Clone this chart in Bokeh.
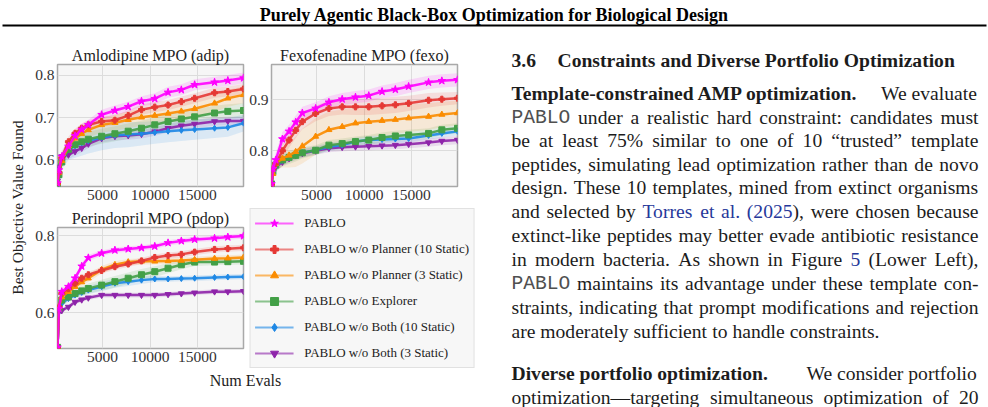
import math
from bokeh.plotting import figure
from bokeh.models import Range1d, FixedTicker, PrintfTickFormatter, Legend, LegendItem, ColumnDataSource
from bokeh.layouts import row, column
from bokeh.embed import file_html
from bokeh.resources import INLINE
from bokeh.core.properties import value

# ---------------------------------------------------------------- data
SERIES = ["PABLO", "PABLO w/o Planner (10 Static)", "PABLO w/o Planner (3 Static)",
          "PABLO w/o Explorer", "PABLO w/o Both (10 Static)", "PABLO w/o Both (3 Static)"]
COLORS = ["#ff00ff", "#e53935", "#fb8c00", "#43a047", "#1e88e5", "#8e24aa"]
MARKERS = ["star", "plus", "triangle", "square", "diamond", "inverted_triangle"]

EVALS = [250, 400, 700, 1400, 2100, 2800, 3500, 4900, 6300, 7700, 9100, 10500,
         11900, 13300, 14700, 16800, 18200, 19850]
X_TICKS = [5000, 10000, 15000]

# Amlodipine MPO (adip): mean best value and half-width of the shaded band
ADIP_PABLO = [0.545, 0.576, 0.608, 0.632, 0.657, 0.672, 0.683, 0.707, 0.717, 0.726, 0.739, 0.745, 0.760, 0.766, 0.778, 0.784, 0.788, 0.794]
ADIP_P10 = [0.545, 0.570, 0.605, 0.643, 0.663, 0.675, 0.683, 0.691, 0.694, 0.705, 0.719, 0.725, 0.730, 0.738, 0.746, 0.759, 0.762, 0.768]
ADIP_P3 = [0.545, 0.570, 0.598, 0.633, 0.651, 0.662, 0.671, 0.683, 0.688, 0.695, 0.701, 0.705, 0.710, 0.715, 0.721, 0.734, 0.746, 0.754]
ADIP_EXPL = [0.540, 0.565, 0.595, 0.625, 0.636, 0.643, 0.649, 0.656, 0.662, 0.668, 0.675, 0.683, 0.691, 0.697, 0.702, 0.711, 0.715, 0.717]
ADIP_B10 = [0.540, 0.560, 0.598, 0.624, 0.633, 0.640, 0.645, 0.653, 0.658, 0.660, 0.662, 0.665, 0.668, 0.670, 0.672, 0.675, 0.677, 0.687]
ADIP_B3 = [0.550, 0.584, 0.608, 0.612, 0.620, 0.628, 0.638, 0.651, 0.656, 0.658, 0.661, 0.667, 0.675, 0.681, 0.685, 0.691, 0.692, 0.692]
ADIP_PABLO_SD = [0.005, 0.012, 0.014, 0.014, 0.013, 0.013, 0.012, 0.012, 0.012, 0.012, 0.012, 0.013, 0.013, 0.013, 0.013, 0.013, 0.013, 0.013]
ADIP_P10_SD = [0.005, 0.012, 0.012, 0.012, 0.011, 0.011, 0.011, 0.011, 0.012, 0.012, 0.012, 0.012, 0.012, 0.012, 0.012, 0.012, 0.012, 0.012]
ADIP_P3_SD = [0.005, 0.012, 0.014, 0.015, 0.016, 0.017, 0.018, 0.018, 0.019, 0.020, 0.020, 0.021, 0.022, 0.022, 0.022, 0.021, 0.020, 0.020]
ADIP_EXPL_SD = [0.005, 0.012, 0.014, 0.015, 0.016, 0.017, 0.017, 0.018, 0.018, 0.018, 0.018, 0.018, 0.018, 0.018, 0.018, 0.017, 0.017, 0.017]
ADIP_B10_SD = [0.005, 0.015, 0.020, 0.025, 0.028, 0.030, 0.030, 0.030, 0.030, 0.030, 0.028, 0.027, 0.026, 0.025, 0.024, 0.023, 0.022, 0.020]
ADIP_B3_SD = [0.005, 0.010, 0.010, 0.010, 0.010, 0.010, 0.010, 0.010, 0.010, 0.010, 0.010, 0.010, 0.010, 0.010, 0.010, 0.010, 0.010, 0.010]

# Fexofenadine MPO (fexo)
FEXO_PABLO = [0.735, 0.765, 0.782, 0.823, 0.838, 0.856, 0.874, 0.883, 0.895, 0.901, 0.905, 0.908, 0.916, 0.920, 0.926, 0.934, 0.937, 0.939]
FEXO_P10 = [0.735, 0.765, 0.775, 0.800, 0.821, 0.840, 0.857, 0.873, 0.883, 0.886, 0.886, 0.886, 0.888, 0.890, 0.893, 0.899, 0.901, 0.903]
FEXO_P3 = [0.735, 0.755, 0.775, 0.785, 0.791, 0.798, 0.809, 0.828, 0.841, 0.847, 0.854, 0.857, 0.859, 0.861, 0.864, 0.867, 0.871, 0.874]
FEXO_EXPL = [0.735, 0.759, 0.772, 0.782, 0.787, 0.791, 0.796, 0.801, 0.811, 0.814, 0.818, 0.821, 0.826, 0.829, 0.831, 0.834, 0.841, 0.844]
FEXO_B10 = [0.735, 0.755, 0.768, 0.781, 0.787, 0.791, 0.796, 0.801, 0.808, 0.811, 0.818, 0.821, 0.822, 0.823, 0.824, 0.830, 0.834, 0.838]
FEXO_B3 = [0.735, 0.759, 0.768, 0.778, 0.785, 0.791, 0.795, 0.800, 0.805, 0.807, 0.808, 0.809, 0.810, 0.811, 0.813, 0.816, 0.819, 0.821]
FEXO_PABLO_SD = [0.005, 0.012, 0.014, 0.014, 0.013, 0.013, 0.012, 0.012, 0.012, 0.012, 0.012, 0.012, 0.012, 0.013, 0.013, 0.013, 0.013, 0.013]
FEXO_P10_SD = [0.005, 0.010, 0.012, 0.014, 0.015, 0.015, 0.015, 0.015, 0.015, 0.015, 0.016, 0.016, 0.016, 0.016, 0.015, 0.014, 0.013, 0.012]
FEXO_P3_SD = [0.005, 0.010, 0.012, 0.018, 0.024, 0.030, 0.034, 0.036, 0.036, 0.034, 0.032, 0.030, 0.029, 0.028, 0.027, 0.026, 0.025, 0.024]
FEXO_EXPL_SD = [0.005, 0.010, 0.012, 0.013, 0.013, 0.012, 0.011, 0.010, 0.010, 0.010, 0.010, 0.010, 0.010, 0.010, 0.010, 0.010, 0.010, 0.010]
FEXO_B10_SD = [0.005, 0.010, 0.010, 0.010, 0.010, 0.009, 0.009, 0.008, 0.008, 0.008, 0.008, 0.008, 0.008, 0.008, 0.008, 0.008, 0.008, 0.008]
FEXO_B3_SD = [0.005, 0.008, 0.008, 0.008, 0.008, 0.008, 0.008, 0.008, 0.008, 0.008, 0.008, 0.008, 0.008, 0.008, 0.008, 0.008, 0.008, 0.008]

# Perindopril MPO (pdop)
PDOP_PABLO = [0.510, 0.611, 0.655, 0.668, 0.690, 0.721, 0.743, 0.755, 0.763, 0.766, 0.769, 0.773, 0.782, 0.787, 0.791, 0.794, 0.797, 0.800]
PDOP_P10 = [0.510, 0.615, 0.650, 0.663, 0.677, 0.690, 0.699, 0.710, 0.720, 0.727, 0.735, 0.744, 0.749, 0.752, 0.758, 0.765, 0.767, 0.769]
PDOP_P3 = [0.510, 0.615, 0.641, 0.655, 0.668, 0.680, 0.690, 0.712, 0.725, 0.732, 0.734, 0.734, 0.735, 0.736, 0.738, 0.741, 0.742, 0.744]
PDOP_EXPL = [0.510, 0.611, 0.633, 0.641, 0.650, 0.657, 0.663, 0.672, 0.681, 0.690, 0.699, 0.707, 0.716, 0.725, 0.732, 0.732, 0.733, 0.734]
PDOP_B10 = [0.510, 0.606, 0.624, 0.637, 0.646, 0.653, 0.659, 0.668, 0.677, 0.681, 0.685, 0.688, 0.688, 0.689, 0.690, 0.692, 0.693, 0.694]
PDOP_B3 = [0.510, 0.602, 0.606, 0.615, 0.628, 0.634, 0.639, 0.646, 0.646, 0.646, 0.646, 0.646, 0.648, 0.650, 0.652, 0.655, 0.655, 0.656]
PDOP_PABLO_SD = [0.005, 0.008, 0.008, 0.008, 0.008, 0.008, 0.008, 0.007, 0.007, 0.007, 0.007, 0.007, 0.007, 0.007, 0.007, 0.007, 0.007, 0.007]
PDOP_P10_SD = [0.005, 0.008, 0.008, 0.008, 0.008, 0.008, 0.008, 0.008, 0.008, 0.008, 0.008, 0.008, 0.008, 0.008, 0.008, 0.008, 0.008, 0.008]
PDOP_P3_SD = [0.005, 0.008, 0.008, 0.008, 0.009, 0.010, 0.010, 0.010, 0.009, 0.008, 0.008, 0.008, 0.008, 0.008, 0.008, 0.008, 0.008, 0.008]
PDOP_EXPL_SD = [0.005, 0.008, 0.008, 0.009, 0.010, 0.012, 0.013, 0.014, 0.015, 0.015, 0.015, 0.014, 0.013, 0.012, 0.010, 0.008, 0.008, 0.008]
PDOP_B10_SD = [0.005, 0.008, 0.008, 0.008, 0.009, 0.010, 0.011, 0.012, 0.012, 0.011, 0.010, 0.008, 0.007, 0.007, 0.007, 0.007, 0.007, 0.007]
PDOP_B3_SD = [0.005, 0.006, 0.006, 0.006, 0.006, 0.006, 0.006, 0.006, 0.006, 0.006, 0.006, 0.006, 0.006, 0.006, 0.006, 0.006, 0.006, 0.006]

# ---------------------------------------------------------------- text
PAGE_TITLE = "Purely Agentic Black-Box Optimization for Biological Design"
Y_LABEL = "Best Objective Value Found"
X_LABEL = "Num Evals"
SECTION_NO = "3.6"
SECTION_TITLE = "Constraints and Diverse Portfolio Optimization"
PARA1_LEAD = "Template-constrained AMP optimization."
PARA1_TAIL = "We evaluate"
PARA1 = [
    "PABLO under a realistic hard constraint: candidates must",
    "be at least 75% similar to one of 10 \u201ctrusted\u201d template",
    "peptides, simulating lead optimization rather than de novo",
    "design. These 10 templates, mined from extinct organisms",
    "and selected by [Torres] [et] [al.] [(2025]), were chosen because",
    "extinct-like peptides may better evade antibiotic resistance",
    "in modern bacteria.  As shown in Figure [5] (Lower Left),",
    "PABLO maintains its advantage under these template con-",
    "straints, indicating that prompt modifications and rejection",
    "are moderately sufficient to handle constraints.",
]
PARA2_LEAD = "Diverse portfolio optimization."
PARA2_TAIL = "We consider portfolio"
PARA2 = ["optimization\u2014targeting simultaneous optimization of 20"]

SERIF = "Liberation Serif"
MONO = "Liberation Mono"
INK = "#1c1c1c"
LINK = "#26389a"


# ---------------------------------------------------------------- panels
def panel(title, means, spreads, y_lo, y_hi, yticks, width, height, borders):
    bl, br, bt, bb = borders
    p = figure(width=width, height=height, title=title,
               x_range=Range1d(EVALS[0], EVALS[-1]), y_range=Range1d(y_lo, y_hi),
               output_backend="svg", toolbar_location=None,
               min_border_left=bl, min_border_right=br,
               min_border_top=bt, min_border_bottom=bb)
    p.title.align = "center"
    p.title.text_font = SERIF
    p.title.text_font_size = "16px"
    p.title.text_font_style = "normal"
    p.title.text_color = "#222222"
    p.title.standoff = 2
    p.background_fill_color = "#f6f6f6"
    p.border_fill_color = "white"
    p.outline_line_color = "#a9a9a9"
    p.outline_line_width = 1.5

    p.xaxis.ticker = FixedTicker(ticks=X_TICKS)
    p.xaxis.formatter = PrintfTickFormatter(format="%d")
    p.yaxis.ticker = FixedTicker(ticks=yticks)
    p.yaxis.formatter = PrintfTickFormatter(format="%.1f")
    for ax in (p.xaxis[0], p.yaxis[0]):
        ax.axis_line_color = None
        ax.major_tick_out = 0
        ax.major_tick_in = 0
        ax.minor_tick_out = 0
        ax.minor_tick_in = 0
        ax.major_label_text_font = SERIF
        ax.major_label_text_font_size = "15.5px"
        ax.major_label_text_color = "#333333"
        ax.major_label_standoff = 3
    p.grid.grid_line_color = "#dcdcdc"
    p.grid.grid_line_width = 1

    for i in reversed(range(len(SERIES))):
        lo = [m - s for m, s in zip(means[i], spreads[i])]
        hi = [m + s for m, s in zip(means[i], spreads[i])]
        p.varea(x=EVALS, y1=lo, y2=hi, fill_color=COLORS[i], fill_alpha=0.13)
    for i in reversed(range(len(SERIES))):
        p.line(EVALS, means[i], line_color=COLORS[i], line_width=2.5, line_alpha=0.9)
        p.scatter(EVALS, means[i], marker=MARKERS[i], size=8 if MARKERS[i] == "star" else 6,
                  fill_color=COLORS[i], line_color=COLORS[i])
    return p


adip = panel("Amlodipine MPO (adip)",
             [ADIP_PABLO, ADIP_P10, ADIP_P3, ADIP_EXPL, ADIP_B10, ADIP_B3],
             [ADIP_PABLO_SD, ADIP_P10_SD, ADIP_P3_SD, ADIP_EXPL_SD, ADIP_B10_SD, ADIP_B3_SD],
             0.537, 0.826, [0.6, 0.7, 0.8], 216, 172, (27, 3, 30, 20))
fexo = panel("Fexofenadine MPO (fexo)",
             [FEXO_PABLO, FEXO_P10, FEXO_P3, FEXO_EXPL, FEXO_B10, FEXO_B3],
             [FEXO_PABLO_SD, FEXO_P10_SD, FEXO_P3_SD, FEXO_EXPL_SD, FEXO_B10_SD, FEXO_B3_SD],
             0.730, 0.969, [0.8, 0.9], 244, 172, (25, 33, 30, 20))
pdop = panel("Perindopril MPO (pdop)",
             [PDOP_PABLO, PDOP_P10, PDOP_P3, PDOP_EXPL, PDOP_B10, PDOP_B3],
             [PDOP_PABLO_SD, PDOP_P10_SD, PDOP_P3_SD, PDOP_EXPL_SD, PDOP_B10_SD, PDOP_B3_SD],
             0.507, 0.822, [0.6, 0.8], 216, 162, (27, 3, 21, 20))


def blank(width, height, x0, x1, y0, y1):
    f = figure(width=width, height=height, x_range=Range1d(x0, x1), y_range=Range1d(y0, y1),
               output_backend="svg", toolbar_location=None,
               x_axis_location=None, y_axis_location=None, min_border=0)
    f.outline_line_color = None
    f.grid.visible = False
    f.background_fill_color = "white"
    f.border_fill_color = "white"
    return f


# shared legend: a side panel of its own cell, centred on the pdop frame height
leg = blank(244, 162, 0, 1, 0, 1)
items = []
for name, col, mk in zip(SERIES, COLORS, MARKERS):
    r1 = leg.line([5, 6], [5, 6], line_color=col, line_width=2, line_alpha=0.6)
    r2 = leg.scatter([5.5], [5.5], marker=mk, size=8 if mk == "star" else 6,
                     fill_color=col, line_color=col)
    items.append(LegendItem(label=name, renderers=[r1, r2]))
legend = Legend(items=items, location="center", orientation="vertical",
                label_text_font=SERIF, label_text_font_size="13px", label_text_color="#222222",
                glyph_width=39, glyph_height=20, label_height=20, label_standoff=11,
                spacing=6, padding=4, margin=14,
                border_line_color="#cccccc", border_line_width=1,
                background_fill_color="#f7f7f7", background_fill_alpha=1.0)
leg.add_layout(legend, "left")

# axis labels shared by the three panels
ylab = blank(30, 373, 0, 30, 407, 34)
ylab.text(x=[17], y=[207], text=[Y_LABEL], angle=math.pi / 2, text_align="center",
          text_baseline="middle", text_font=value(SERIF), text_font_size="15.5px",
          text_color="#222222")
xlab = blank(460, 39, 30, 490, 407, 368)
xlab.text(x=[245], y=[380], text=[X_LABEL], text_align="center", text_baseline="middle",
          text_font=value(SERIF), text_font_size="16px", text_color="#222222")

# running head with the rule below it
head = blank(988, 34, 0, 988, 34, 0)
head.text(x=[494], y=[14], text=[PAGE_TITLE], text_align="center", text_baseline="middle",
          text_font=value(SERIF), text_font_style="bold", text_font_size="18px",
          text_color="black")
head.segment(x0=[2], y0=[25], x1=[986], y1=[25], line_color="black", line_width=2)

# ---------------------------------------------------------------- body text column
FS = 19.6
X0, X1 = 511, 978

_UP = "ABCDEFGHIJKLMNOPQRSTUVWXYZ"
_LO = "abcdefghijklmnopqrstuvwxyz"
REG_W = dict(zip(_UP, [722, 667, 667, 722, 611, 556, 722, 722, 333, 389, 722, 611, 889, 722, 722, 556, 722, 667, 556, 611, 722, 722, 944, 722, 722, 611]))
REG_W.update(zip(_LO, [444, 500, 444, 500, 444, 333, 500, 500, 278, 278, 500, 278, 778, 500, 500, 500, 500, 333, 389, 278, 500, 500, 722, 500, 500, 444]))
BOLD_W = dict(zip(_UP, [722, 667, 722, 722, 667, 611, 778, 778, 389, 500, 778, 667, 944, 722, 778, 611, 778, 722, 556, 667, 722, 722, 1000, 722, 722, 667]))
BOLD_W.update(zip(_LO, [500, 556, 444, 556, 444, 333, 500, 556, 278, 333, 556, 278, 833, 556, 500, 556, 556, 444, 389, 333, 556, 500, 722, 500, 500, 444]))
for tbl in (REG_W, BOLD_W):
    tbl.update({d: 500 for d in "0123456789"})
    tbl.update({" ": 250, ".": 250, ",": 250, ":": 278, ";": 278, "-": 333, "(": 333, ")": 333,
                "%": 833, "\u201c": 444, "\u201d": 444, "\u2014": 1000})


def str_w(s, kind):
    if kind == "mono":
        return 0.6 * FS * len(s)
    tbl = BOLD_W if kind == "bold" else REG_W
    return sum(tbl.get(c, 500) for c in s) * FS / 1000.0


def pieces(word):
    out, buf, link = [], "", False
    for ch in word:
        if ch in "[]":
            if buf:
                out.append((buf, link))
            buf, link = "", ch == "["
        else:
            buf += ch
    if buf:
        out.append((buf, link))
    return out


runs = {"reg": dict(x=[], y=[], t=[], c=[]), "bold": dict(x=[], y=[], t=[], c=[]),
        "mono": dict(x=[], y=[], t=[], c=[])}


def put(kind, x, y, t, c=INK):
    runs[kind]["x"].append(x)
    runs[kind]["y"].append(y)
    runs[kind]["t"].append(t)
    runs[kind]["c"].append(c)


def set_line(line, y, justify):
    words = line.split()
    kinds = ["mono" if w == "PABLO" else "reg" for w in words]
    widths = [sum(str_w(t, k) for t, _ in pieces(w)) for w, k in zip(words, kinds)]
    gap = str_w(" ", "reg")
    if justify and len(words) > 1:
        gap = (X1 - X0 - sum(widths)) / (len(words) - 1)
    x = X0
    for w, k, wd in zip(words, kinds, widths):
        cx = x
        for t, is_link in pieces(w):
            put(k, cx, y, t, LINK if is_link else ("#505050" if k == "mono" else INK))
            cx += str_w(t, k)
        x += wd + gap


def lead_line(lead, tail, y):
    put("bold", X0, y, lead)
    put("reg", X1 - str_w(tail, "reg"), y, tail)


put("bold", X0, 60, SECTION_NO)
put("bold", 557, 60, SECTION_TITLE)
lead_line(PARA1_LEAD, PARA1_TAIL, 93)
PARA1_Y = [117, 140, 164, 187, 211, 235, 259, 283, 307, 331]
for k, (ln, yy) in enumerate(zip(PARA1, PARA1_Y)):
    set_line(ln, yy, k < len(PARA1) - 1)
lead_line(PARA2_LEAD, PARA2_TAIL, 373)
set_line(PARA2[0], 397, True)

txt = blank(498, 373, 490, 988, 407, 34)
for kind, font, style in (("reg", SERIF, "normal"), ("bold", SERIF, "bold"), ("mono", MONO, "normal")):
    txt.text(x="x", y="y", text="t", text_color="c", source=ColumnDataSource(runs[kind]),
             text_align="left", text_baseline="middle", text_font=value(font),
             text_font_style=style, text_font_size=f"{FS}px")

# ---------------------------------------------------------------- page layout
left = column(row(adip, fexo), row(pdop, leg), xlab)
page = column(head, row(ylab, left, txt))

open("out.html", "w").write(file_html(page, INLINE))
